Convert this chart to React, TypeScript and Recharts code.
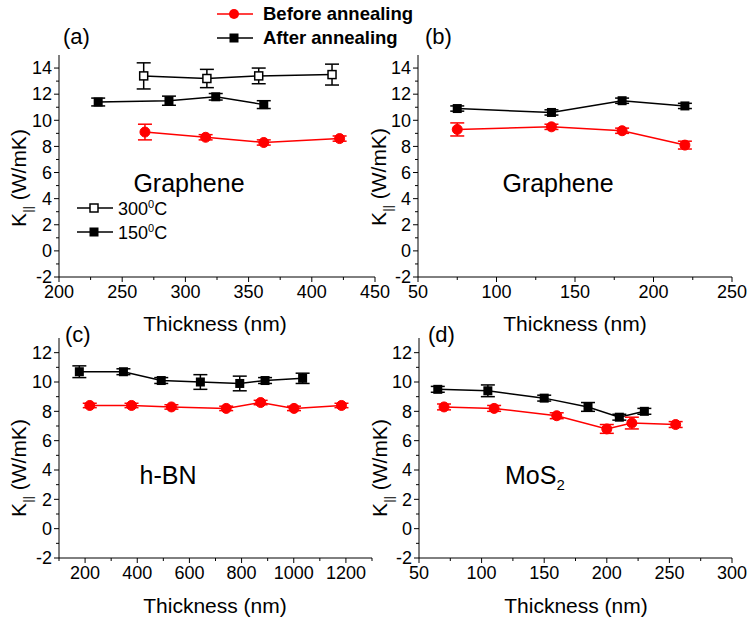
import React from 'react';
import { LineChart, Line, XAxis, YAxis, ErrorBar } from 'recharts';

// (a) graphene, thickness 200-450 nm
const aBeforeX = [268, 316, 362, 422];
const aBeforeY = [9.1, 8.7, 8.3, 8.6];
const aBeforeErr = [0.6, 0.2, 0.2, 0.2];
const a150X = [231, 287, 324, 362];
const a150Y = [11.4, 11.5, 11.8, 11.2];
const a150Err = [0.3, 0.35, 0.25, 0.3];
const a300X = [267, 317, 358, 416];
const a300Y = [13.4, 13.2, 13.4, 13.5];
const a300Err = [1.0, 0.7, 0.6, 0.8];

// (b) graphene, thinner flakes
const bBeforeX = [75, 135, 180, 220];
const bBeforeY = [9.3, 9.5, 9.2, 8.1];
const bBeforeErr = [0.5, 0.2, 0.2, 0.3];
const bAfterX = [75, 135, 180, 220];
const bAfterY = [10.9, 10.6, 11.5, 11.1];
const bAfterErr = [0.2, 0.2, 0.2, 0.2];

// (c) h-BN
const cBeforeX = [218, 378, 531, 741, 873, 1001, 1183];
const cBeforeY = [8.4, 8.4, 8.3, 8.2, 8.6, 8.2, 8.4];
const cBeforeErr = [0.15, 0.15, 0.15, 0.15, 0.15, 0.15, 0.15];
const cAfterX = [178, 347, 492, 642, 793, 890, 1034];
const cAfterY = [10.7, 10.7, 10.1, 10.0, 9.9, 10.1, 10.25];
const cAfterErr = [0.4, 0.2, 0.2, 0.5, 0.5, 0.2, 0.35];

// (d) MoS2
const dBeforeX = [70, 110, 160, 200, 220, 255];
const dBeforeY = [8.3, 8.2, 7.7, 6.8, 7.2, 7.1];
const dBeforeErr = [0.2, 0.2, 0.2, 0.3, 0.4, 0.2];
const dAfterX = [65, 105, 150, 185, 210, 230];
const dAfterY = [9.5, 9.4, 8.9, 8.3, 7.6, 8.0];
const dAfterErr = [0.2, 0.4, 0.2, 0.3, 0.2, 0.2];

const yTicksTop = [-2, -1, 0, 1, 2, 3, 4, 5, 6, 7, 8, 9, 10, 11, 12, 13, 14];
const yTicksBottom = [-2, -1, 0, 1, 2, 3, 4, 5, 6, 7, 8, 9, 10, 11, 12];
const xTicksA = [200, 225, 250, 275, 300, 325, 350, 375, 400, 425, 450];
const xTicksB = [50, 75, 100, 125, 150, 175, 200, 225, 250];
const xTicksC = [100, 200, 300, 400, 500, 600, 700, 800, 900, 1000, 1100, 1200, 1300];
const xTicksD = [50, 75, 100, 125, 150, 175, 200, 225, 250, 275, 300];

const FONT = 'Arial, "Liberation Sans", sans-serif';
const RED = '#ff0000';

const zip = (xs: number[], ys: number[], es: number[]) =>
  xs.map((x, i) => ({ x, y: ys[i], e: es[i] }));

const TS = 4;
const TM = 3;

const makeYTick = (step: number) => (props: any) => {
  const { x, y, payload } = props;
  const v = payload.value;
  const major = v % step === 0;
  const ax = x + TS + TM;
  return (
    <g>
      <line x1={ax - (major ? 5 : 3)} x2={ax} y1={y} y2={y} stroke="#000" strokeWidth={1} />
      {major && (
        <text x={x} y={y} dy="0.35em" textAnchor="end" fontSize={18} fontFamily={FONT} fill="#000">
          {v}
        </text>
      )}
    </g>
  );
};

const makeXTick = (step: number) => (props: any) => {
  const { x, y, payload } = props;
  const v = payload.value;
  const major = v % step === 0;
  const ay = y - TS - TM;
  return (
    <g>
      <line x1={x} x2={x} y1={ay} y2={ay + (major ? 5 : 3)} stroke="#000" strokeWidth={1} />
      {major && (
        <text x={x} y={y} dy="0.75em" textAnchor="middle" fontSize={18} fontFamily={FONT} fill="#000">
          {v}
        </text>
      )}
    </g>
  );
};

const Circle = (props: any) => {
  const { cx, cy } = props;
  if (cx == null || cy == null) return null;
  return <circle cx={cx} cy={cy} r={5} fill={RED} stroke={RED} />;
};
const Square = (props: any) => {
  const { cx, cy } = props;
  if (cx == null || cy == null) return null;
  return <rect x={cx - 4.5} y={cy - 4.5} width={9} height={9} fill="#000" />;
};
const OpenSquare = (props: any) => {
  const { cx, cy } = props;
  if (cx == null || cy == null) return null;
  return <rect x={cx - 4} y={cy - 4} width={8} height={8} fill="#fff" stroke="#000" strokeWidth={1.5} />;
};

interface SeriesDef {
  key: string;
  data: { x: number; y: number; e: number }[];
  color: string;
  dot: any;
}

interface PanelProps {
  left: number;
  top: number;
  width: number;
  height: number;
  margin: { top: number; right: number; bottom: number; left: number };
  xDomain: [number, number];
  xTicks: number[];
  xStep: number;
  yDomain: [number, number];
  yTicks: number[];
  series: SeriesDef[];
}

const Panel: React.FC<PanelProps> = ({ left, top, width, height, margin, xDomain, xTicks, xStep, yDomain, yTicks, series }) => (
  <div style={{ position: 'absolute', left, top }}>
    <LineChart width={width} height={height} margin={margin}>
      <XAxis
        type="number"
        dataKey="x"
        domain={xDomain}
        ticks={xTicks}
        allowDataOverflow
        height={1}
        tickSize={TS}
        tickMargin={TM}
        tickLine={false}
        tick={makeXTick(xStep)}
        axisLine={{ stroke: '#000', strokeWidth: 1 }}
        interval={0}
      />
      <YAxis
        type="number"
        domain={yDomain}
        ticks={yTicks}
        allowDataOverflow
        width={1}
        tickSize={TS}
        tickMargin={TM}
        tickLine={false}
        tick={makeYTick(2)}
        axisLine={{ stroke: '#000', strokeWidth: 1 }}
        interval={0}
      />
      {series.map((s) => (
        <Line
          key={s.key}
          data={s.data}
          dataKey="y"
          stroke={s.color}
          strokeWidth={1.5}
          dot={s.dot}
          activeDot={false}
          isAnimationActive={false}
        >
          <ErrorBar dataKey="e" direction="y" width={7} stroke={s.color} strokeWidth={1.5} />
        </Line>
      ))}
    </LineChart>
  </div>
);

const txt = (extra: React.CSSProperties): React.CSSProperties => ({
  position: 'absolute',
  fontFamily: FONT,
  color: '#000',
  whiteSpace: 'nowrap',
  lineHeight: 1,
  ...extra,
});

const YLabel: React.FC<{ cx: number; cy: number }> = ({ cx, cy }) => (
  <div
    style={txt({
      left: cx,
      top: cy,
      fontSize: 21,
      transform: 'translate(-50%, -50%) rotate(-90deg)',
    })}
  >
    K<sub style={{ fontSize: 13 }}>||</sub> (W/mK)
  </div>
);

const XLabel: React.FC<{ cx: number; cy: number }> = ({ cx, cy }) => (
  <div style={txt({ left: cx - 100, width: 200, top: cy - 10, fontSize: 21, textAlign: 'center' })}>
    Thickness (nm)
  </div>
);

const LegendMark: React.FC<{ left: number; cy: number; color: string; kind: 'circle' | 'square' | 'open' }> = ({ left, cy, color, kind }) => (
  <svg style={{ position: 'absolute', left, top: cy - 7 }} width={36} height={14}>
    <line x1={0} x2={36} y1={7} y2={7} stroke={color} strokeWidth={1.5} />
    {kind === 'circle' && <circle cx={17} cy={7} r={5} fill={color} />}
    {kind === 'square' && <rect x={12.5} y={2.5} width={9} height={9} fill={color} />}
    {kind === 'open' && <rect x={13} y={3} width={8} height={8} fill="#fff" stroke={color} strokeWidth={1.5} />}
  </svg>
);

export default function App() {
  return (
    <div style={{ position: 'absolute', left: 0, top: 0, width: 753, height: 624, background: '#fff', overflow: 'hidden' }}>
      <Panel
        left={0}
        top={0}
        width={400}
        height={300}
        margin={{ top: 55, left: 58, right: 25, bottom: 22 }}
        xDomain={[200, 450]}
        xTicks={xTicksA}
        xStep={50}
        yDomain={[-2, 15]}
        yTicks={yTicksTop}
        series={[
          { key: 'a300', data: zip(a300X, a300Y, a300Err), color: '#000', dot: OpenSquare },
          { key: 'a150', data: zip(a150X, a150Y, a150Err), color: '#000', dot: Square },
          { key: 'abefore', data: zip(aBeforeX, aBeforeY, aBeforeErr), color: RED, dot: Circle },
        ]}
      />
      <Panel
        left={380}
        top={0}
        width={380}
        height={300}
        margin={{ top: 55, left: 37, right: 28, bottom: 22 }}
        xDomain={[50, 250]}
        xTicks={xTicksB}
        xStep={50}
        yDomain={[-2, 15]}
        yTicks={yTicksTop}
        series={[
          { key: 'bafter', data: zip(bAfterX, bAfterY, bAfterErr), color: '#000', dot: Square },
          { key: 'bbefore', data: zip(bBeforeX, bBeforeY, bBeforeErr), color: RED, dot: Circle },
        ]}
      />
      <Panel
        left={0}
        top={310}
        width={380}
        height={280}
        margin={{ top: 28, left: 58, right: 8, bottom: 31 }}
        xDomain={[100, 1300]}
        xTicks={xTicksC}
        xStep={200}
        yDomain={[-2, 13]}
        yTicks={yTicksBottom}
        series={[
          { key: 'cafter', data: zip(cAfterX, cAfterY, cAfterErr), color: '#000', dot: Square },
          { key: 'cbefore', data: zip(cBeforeX, cBeforeY, cBeforeErr), color: RED, dot: Circle },
        ]}
      />
      <Panel
        left={380}
        top={310}
        width={380}
        height={280}
        margin={{ top: 28, left: 38, right: 28, bottom: 31 }}
        xDomain={[50, 300]}
        xTicks={xTicksD}
        xStep={50}
        yDomain={[-2, 13]}
        yTicks={yTicksBottom}
        series={[
          { key: 'dafter', data: zip(dAfterX, dAfterY, dAfterErr), color: '#000', dot: Square },
          { key: 'dbefore', data: zip(dBeforeX, dBeforeY, dBeforeErr), color: RED, dot: Circle },
        ]}
      />

      {/* axis titles */}
      <YLabel cx={21} cy={178} />
      <YLabel cx={381} cy={177} />
      <YLabel cx={21} cy={468} />
      <YLabel cx={382} cy={468} />
      <XLabel cx={215} cy={323} />
      <XLabel cx={575} cy={323} />
      <XLabel cx={215} cy={605} />
      <XLabel cx={576} cy={605} />

      {/* panel letters */}
      <div style={txt({ left: 63, top: 26, fontSize: 22 })}>(a)</div>
      <div style={txt({ left: 425, top: 26, fontSize: 22 })}>(b)</div>
      <div style={txt({ left: 65, top: 324, fontSize: 22 })}>(c)</div>
      <div style={txt({ left: 428, top: 324, fontSize: 22 })}>(d)</div>

      {/* material names */}
      <div style={txt({ left: 89, width: 200, top: 171, fontSize: 25, textAlign: 'center' })}>Graphene</div>
      <div style={txt({ left: 458, width: 200, top: 171, fontSize: 25, textAlign: 'center' })}>Graphene</div>
      <div style={txt({ left: 68, width: 200, top: 463, fontSize: 25, textAlign: 'center' })}>h-BN</div>
      <div style={txt({ left: 505, top: 463, fontSize: 25 })}>
        MoS<sub style={{ fontSize: 15 }}>2</sub>
      </div>

      {/* main legend */}
      <LegendMark left={217} cy={14} color={RED} kind="circle" />
      <div style={txt({ left: 263, top: 5, fontSize: 18.5, fontWeight: 'bold' })}>Before annealing</div>
      <LegendMark left={217} cy={38} color="#000" kind="square" />
      <div style={txt({ left: 263, top: 29, fontSize: 18.5, fontWeight: 'bold' })}>After annealing</div>

      {/* temperature legend in (a) */}
      <LegendMark left={77} cy={208} color="#000" kind="open" />
      <div style={txt({ left: 118, top: 199, fontSize: 18 })}>
        300<sup style={{ fontSize: 11 }}>0</sup>C
      </div>
      <LegendMark left={77} cy={232} color="#000" kind="square" />
      <div style={txt({ left: 118, top: 223, fontSize: 18 })}>
        150<sup style={{ fontSize: 11 }}>0</sup>C
      </div>
    </div>
  );
}
